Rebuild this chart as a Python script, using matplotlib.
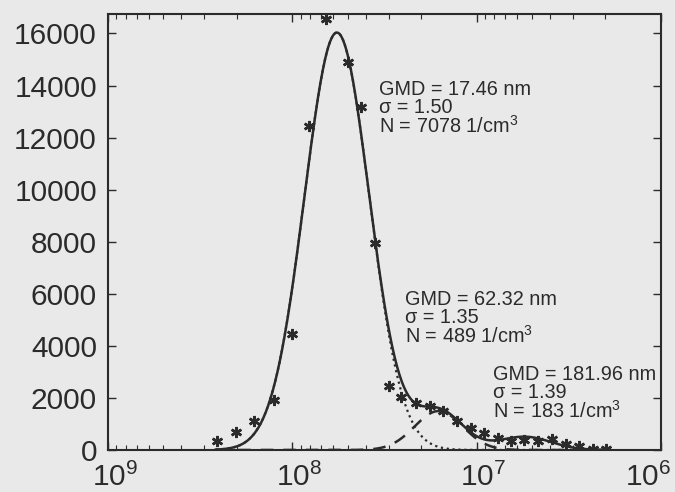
import numpy as np
import matplotlib
matplotlib.use("Agg")
import matplotlib.pyplot as plt
import matplotlib.transforms as mtransforms
from matplotlib.ticker import LogLocator, FixedLocator

plt.rcParams["font.family"] = ["Liberation Sans", "DejaVu Sans"]
plt.rcParams["mathtext.default"] = "regular"

# measured points (x in 1/m, dN/dlogDp)
x_meas = [2.563e8, 2.021e8, 1.614e8, 1.257e8, 1.004e8, 8.12e7, 6.57e7,
          4.99e7, 4.24e7, 3.56e7, 2.99e7, 2.57e7, 2.13e7, 1.79e7, 1.52e7,
          1.28e7, 1.07e7, 9.13e6, 7.66e6, 6.51e6, 5.54e6, 4.65e6, 3.90e6,
          3.28e6, 2.78e6, 2.34e6, 1.99e6]
y_meas = [350, 690, 1110, 1920, 4450, 12440, 16550,
          14900, 13170, 7950, 2460, 2035, 1805, 1690, 1500,
          1115, 845, 655, 460, 350, 385, 345, 420,
          230, 155, 40, 40]

# fitted modes, as printed on the chart
gmd_nm = [17.46, 62.32, 181.96]
sigma = [1.50, 1.35, 1.39]
n_tot = [7078, 489, 183]

ink = "#2b2b2b"
paper = "#e9e9e9"


def mode(x, g, s, n):
    x0 = 1e9 / g
    ls = np.log10(s)
    return n / (np.sqrt(2 * np.pi) * ls) * np.exp(-(np.log10(x) - np.log10(x0)) ** 2 / (2 * ls ** 2))


xs = np.logspace(np.log10(2.6e8), np.log10(2.0e6), 500)
modes = [mode(xs, g, s, n) for g, s, n in zip(gmd_nm, sigma, n_tot)]
total = modes[0] + modes[1] + modes[2]

fig = plt.figure(figsize=(6.75, 4.92), dpi=100, facecolor=paper)
ax = fig.add_axes([0.160, 0.0854, 0.819, 0.8862])
ax.set_facecolor(paper)

ax.plot(xs, modes[0], ":", color=ink, lw=1.6)
ax.plot(xs, modes[1], "--", color=ink, lw=1.8, dashes=(5, 4))
ax.plot(xs, total, "-", color=ink, lw=1.8)
ax.plot(x_meas, y_meas, linestyle="none", marker=(6, 2, 0), markersize=8,
        mew=1.8, color=ink)

ax.set_xscale("log")
ax.set_xlim(1e9, 1e6)
ax.set_ylim(0, 16750)
ax.xaxis.set_major_locator(FixedLocator([1e9, 1e8, 1e7, 1e6]))
ax.xaxis.set_minor_locator(LogLocator(base=10, subs=np.arange(2, 10), numticks=20))
ax.yaxis.set_major_locator(FixedLocator(np.arange(0, 16001, 2000)))

for sp in ax.spines.values():
    sp.set_linewidth(1.5)
    sp.set_color(ink)

ax.tick_params(axis="both", which="both", direction="in", colors=ink,
               labelcolor=ink, top=True, right=True)
ax.tick_params(axis="both", which="major", length=6, width=1.0, labelsize=21.5)
ax.tick_params(axis="x", which="minor", length=3.5, width=0.8)
ax.tick_params(axis="y", which="major", pad=8)
ax.tick_params(axis="x", which="major", pad=9.5)

# nudge x tick labels like the original (last one pulled inside)
fig.canvas.draw()
shifts = [5, 5, 5, -9]
for lab, dx in zip(ax.get_xticklabels(), shifts):
    lab.set_transform(lab.get_transform() + mtransforms.ScaledTranslation(dx / 72, 0, fig.dpi_scale_trans))

txt = dict(transform=ax.transAxes, fontsize=14.3, color=ink, va="baseline",
           ha="left", linespacing=0.92)
labels = [(0.490, 0.727, 0), (0.537, 0.2454, 1), (0.696, 0.0734, 2)]
for xf, yf, i in labels:
    s = f"GMD = {gmd_nm[i]:.2f} nm\nσ = {sigma[i]:.2f}\nN = {n_tot[i]} 1/cm$^3$"
    ax.text(xf, yf, s, **txt)

fig.savefig("out.png", dpi=100, facecolor=paper)
